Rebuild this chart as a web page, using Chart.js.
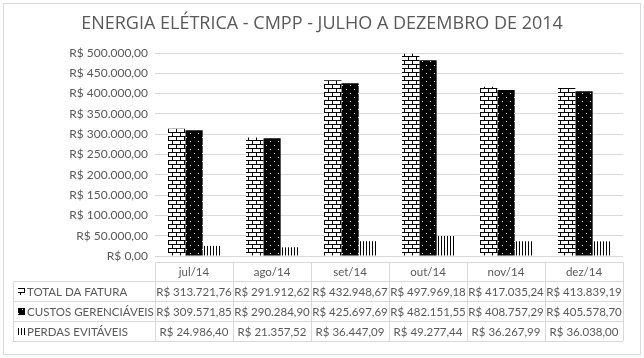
<!DOCTYPE html>
<html>
<head>
<meta charset="utf-8">
<script src="https://cdn.jsdelivr.net/npm/chart.js@4"></script>
<style>
  body { margin: 0; background: #fff; }
  canvas { display: block; }
</style>
</head>
<body>
<canvas id="chart" width="644" height="358"></canvas>
<script>
const months = ['jul/14', 'ago/14', 'set/14', 'out/14', 'nov/14', 'dez/14'];
const totalFatura = [313721.76, 291912.62, 432948.67, 497969.18, 417035.24, 413839.19];
const custosGerenciaveis = [309571.85, 290284.90, 425697.69, 482151.55, 408757.29, 405578.70];
const perdasEvitaveis = [24986.40, 21357.52, 36447.09, 49277.44, 36267.99, 36038.00];
const seriesNames = ['TOTAL DA FATURA', 'CUSTOS GERENCIÁVEIS', 'PERDAS EVITÁVEIS'];
const yMax = 500000;
const yStep = 50000;

const FONT = 'Lato';
const TEXT = '#595959';
const LINE = '#d9d9d9';

// R$ 1.234,56
function brl(v) {
    const parts = Number(v).toFixed(2).split('.');
    return 'R$ ' + parts[0].replace(/\B(?=(\d{3})+(?!\d))/g, '.') + ',' + parts[1];
}

function makePattern(w, h, draw) {
    const c = document.createElement('canvas');
    c.width = w; c.height = h;
    const g = c.getContext('2d');
    draw(g);
    return g.createPattern(c, 'repeat');
}

// brick: white bricks, black mortar
const brick = makePattern(8, 8, g => {
    g.fillStyle = '#fff'; g.fillRect(0, 0, 8, 8);
    g.fillStyle = '#000';
    g.fillRect(0, 0, 8, 1);
    g.fillRect(0, 4, 8, 1);
    g.fillRect(0, 1, 1, 3);
    g.fillRect(4, 5, 1, 3);
});
// black with small white dots
const dots = makePattern(8, 8, g => {
    g.fillStyle = '#000'; g.fillRect(0, 0, 8, 8);
    g.fillStyle = '#fff';
    g.fillRect(2, 1, 1, 1);
    g.fillRect(6, 5, 1, 1);
});
// thin vertical stripes
const stripes = makePattern(3, 4, g => {
    g.fillStyle = '#fff'; g.fillRect(0, 0, 3, 4);
    g.fillStyle = '#000'; g.fillRect(0, 0, 1, 4);
});
const fills = [brick, dots, stripes];

const tablePlugin = {
    id: 'dataTable',
    afterDraw(chart) {
        const ctx = chart.ctx;
        const x = chart.scales.x;
        const n = months.length;
        const colW = (x.right - x.left) / n;
        const left0 = 13;
        const rows = [262, 281, 301, 321, 341];
        const rowData = [totalFatura, custosGerenciaveis, perdasEvitaveis];

        ctx.save();
        // outer border
        ctx.strokeStyle = LINE;
        ctx.lineWidth = 1;
        ctx.strokeRect(3.5, 3.5, 637, 351);

        // title
        ctx.fillStyle = TEXT;
        ctx.font = '18px "Open Sans"';
        ctx.textAlign = 'center';
        ctx.textBaseline = 'middle';
        ctx.fillText('ENERGIA ELÉTRICA - CMPP - JULHO A DEZEMBRO DE 2014', 322, 24);

        // table grid
        ctx.beginPath();
        ctx.moveTo(x.left, rows[0] + 0.5);
        ctx.lineTo(x.right, rows[0] + 0.5);
        for (let r = 1; r < rows.length; r++) {
            ctx.moveTo(left0, rows[r] + 0.5);
            ctx.lineTo(x.right, rows[r] + 0.5);
        }
        ctx.moveTo(left0 + 0.5, rows[1]);
        ctx.lineTo(left0 + 0.5, rows[4]);
        for (let i = 0; i <= n; i++) {
            const cx = Math.round(x.left + i * colW) + 0.5;
            ctx.moveTo(cx, rows[0]);
            ctx.lineTo(cx, rows[4]);
        }
        ctx.stroke();

        ctx.font = '11.5px ' + FONT;
        ctx.fillStyle = TEXT;
        ctx.textAlign = 'center';
        for (let i = 0; i < n; i++) {
            const cx = x.getPixelForValue(i);
            ctx.fillText(months[i], cx, (rows[0] + rows[1]) / 2 + 1);
            for (let r = 0; r < 3; r++) {
                ctx.fillText(brl(rowData[r][i]), cx, (rows[r + 1] + rows[r + 2]) / 2 + 1);
            }
        }
        ctx.textAlign = 'left';
        for (let r = 0; r < 3; r++) {
            const cy = (rows[r + 1] + rows[r + 2]) / 2;
            ctx.fillStyle = fills[r];
            ctx.fillRect(18, Math.round(cy) - 3, 7, 7);
            ctx.fillStyle = TEXT;
            ctx.fillText(seriesNames[r], 27, cy + 1);
        }
        ctx.restore();
    }
};

new Chart(document.getElementById('chart'), {
    type: 'bar',
    data: {
        labels: months,
        datasets: [
            { label: seriesNames[0], data: totalFatura, backgroundColor: brick },
            { label: seriesNames[1], data: custosGerenciaveis, backgroundColor: dots },
            { label: seriesNames[2], data: perdasEvitaveis, backgroundColor: stripes }
        ]
    },
    options: {
        responsive: false,
        animation: false,
        devicePixelRatio: 1,
        datasets: {
            bar: { categoryPercentage: 0.667, barPercentage: 1 }
        },
        layout: { padding: { top: 53, right: 21, bottom: 102, left: 0 } },
        plugins: {
            legend: { display: false },
            title: { display: false },
            tooltip: { enabled: false }
        },
        scales: {
            x: { display: false },
            y: {
                min: 0,
                max: yMax,
                ticks: {
                    stepSize: yStep,
                    color: TEXT,
                    font: { family: FONT, size: 12 },
                    padding: 7,
                    callback: v => brl(v)
                },
                grid: { color: LINE, drawTicks: false },
                border: { display: false },
                afterFit: s => { s.width = 155; }
            }
        }
    },
    plugins: [tablePlugin]
});
</script>
</body>
</html>
